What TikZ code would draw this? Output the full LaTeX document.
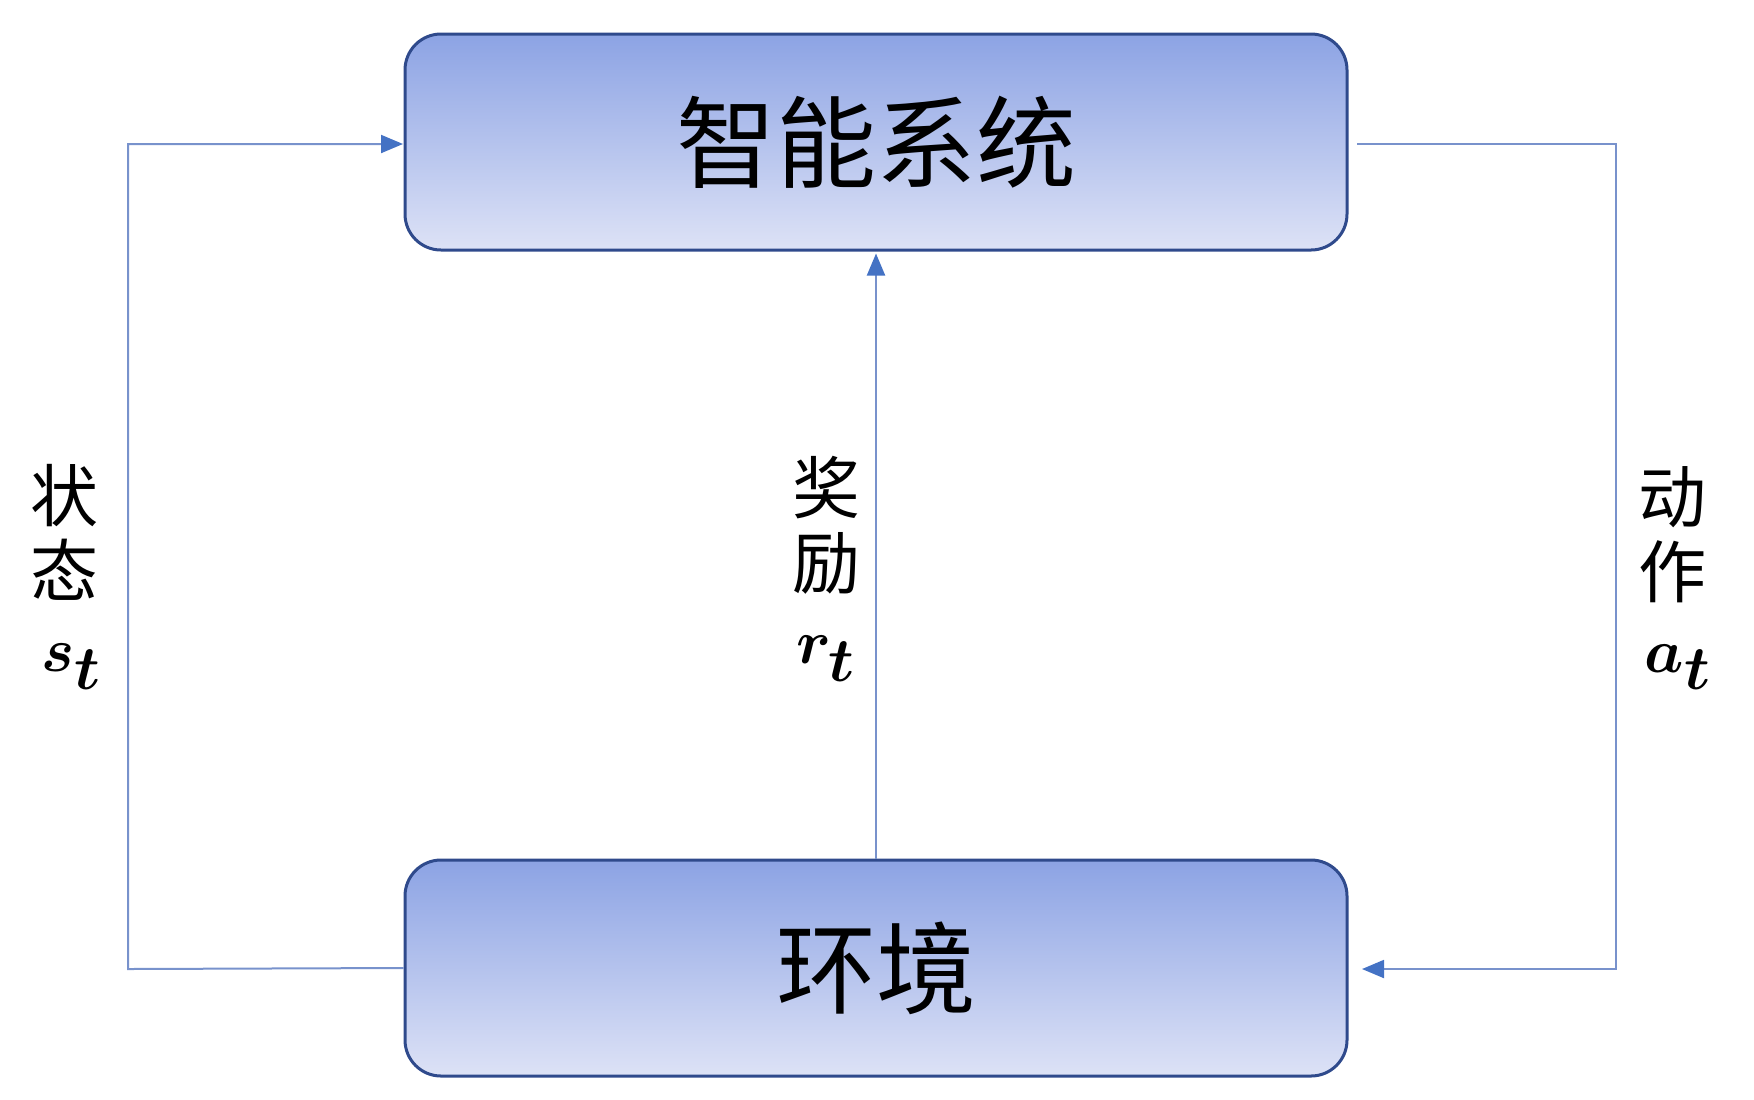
\documentclass[tikz,border=0pt]{standalone}
\usepackage{fontspec}
\usepackage{graphicx}
\setmainfont{Noto Sans CJK SC}
\usetikzlibrary{arrows.meta}
\DeclareMathSizes{34}{34}{29}{22}
\newcommand{\mathlab}[1]{\scalebox{1.25}{\boldmath$#1$}}
\definecolor{boxtop}{RGB}{140,163,228}
\definecolor{boxbot}{RGB}{221,226,246}
\definecolor{boxline}{RGB}{47,74,140}
\definecolor{connline}{RGB}{120,146,204}
\definecolor{tipcol}{RGB}{68,114,196}
\tikzset{
  blockbox/.style={draw=boxline, line width=1.5pt, rounded corners=18pt,
    top color=boxtop, bottom color=boxbot, minimum width=471pt,
    minimum height=108pt, inner sep=0pt, font=\fontsize{50}{58}\selectfont},
  conn/.style={draw=connline, line width=1pt},
  arr/.style={conn, -{Triangle[length=11pt,width=9pt,color=tipcol,fill=tipcol]}},
  lab/.style={align=center, inner sep=0pt, font=\fontsize{34}{37.5}\selectfont}
}
\begin{document}
\begin{tikzpicture}[x=0.5pt,y=-0.5pt]
\useasboundingbox (0,0) rectangle (1754,1099);
\node[blockbox] (agent) at (876,142) {智能系统};
\node[blockbox] (env) at (876,968) {环境};
\coordinate (L1) at (128,969);
\coordinate (L2) at (128,144);
\coordinate (R0) at (1357,144);
\coordinate (R1) at (1616,144);
\coordinate (R2) at (1616,969);
\coordinate (R3) at (1362,969);
\coordinate (LT) at (403,144);
\draw[arr] (env.west) -- (L1) -- (L2) -- (LT);
\draw[arr] (R0) -- (R1) -- (R2) -- (R3);
\draw[arr] (env.north) -- ([yshift=-1pt]agent.south);
\node[lab] (state) at (64,577) {状\\态\\\hspace*{8pt}\mathlab{s_t}};
\node[lab] (reward) at (826,569) {奖\\励\\\mathlab{r_t}};
\node[lab] (action) at (1672,578) {动\\作\\\hspace*{6pt}\mathlab{a_t}};
\end{tikzpicture}
\end{document}
